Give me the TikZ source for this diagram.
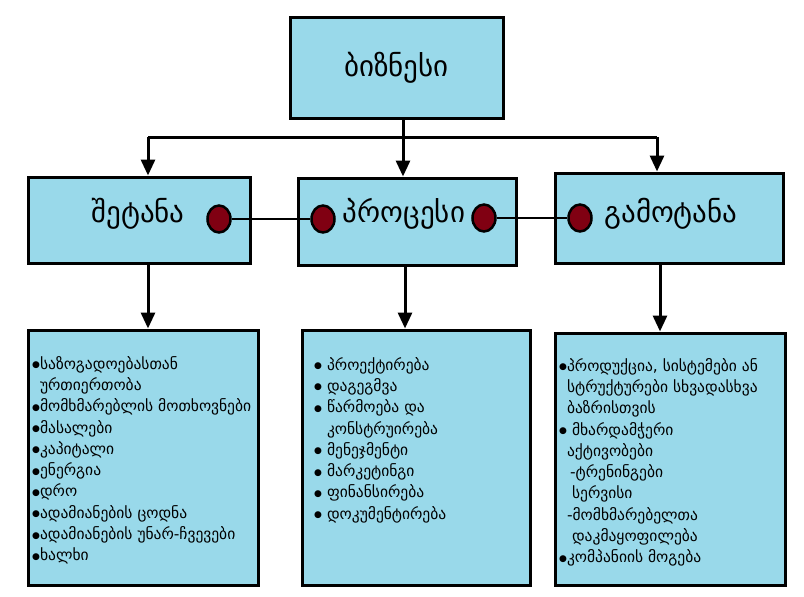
\documentclass[tikz,border=0pt]{standalone}
\usepackage{fontspec}
\setmainfont{DejaVu Sans}
\usetikzlibrary{arrows.meta,shapes.geometric}
\definecolor{boxblue}{RGB}{153,217,234}
\definecolor{dotred}{RGB}{128,0,18}
% list bullet, a little heavier than the text bullet, centred on the letters
\newcommand\lbul{\raisebox{1.5pt}{\fontsize{9}{9}\selectfont ●}}
\newcommand\nobul{\phantom{\lbul}}
\begin{document}
\begin{tikzpicture}[x=1pt,y=-1pt,
  box/.style={draw=black,line width=3pt,fill=boxblue,inner sep=0pt},
  title/.style={font=\fontsize{29}{33}\selectfont},
  listtext/.style={anchor=north west,align=left,inner sep=0pt,font=\fontsize{15.5}{21.3}\selectfont},
  port/.style={ellipse,draw=black,line width=2.5pt,fill=dotred,minimum width=23pt,minimum height=27pt,inner sep=0pt},
  wire/.style={line width=2.5pt},
  feed/.style={line width=3pt,-{Triangle[width=14pt,length=16pt]}}]
\useasboundingbox (0,0) rectangle (804,597);
\fill[white] (0,0) rectangle (804,597);

% top level
\node[box,title,minimum width=213pt,minimum height=101pt] (biz) at (396.5,67.5) {ბიზნესი};

% middle row
\node[box,minimum width=222pt,minimum height=86pt] (inbox) at (139,220) {};
\node[box,minimum width=218pt,minimum height=87pt] (procbox) at (407,221.5) {};
\node[box,minimum width=228pt,minimum height=90pt] (outbox) at (669,218) {};
\node[title] (intext) at (138,214) {შეტანა};
\node[title] (proctext) at (404,214) {პროცესი};
\node[title] (outtext) at (671,214) {გამოტანა};

% ports and links
\node[port] (d1) at (219,219) {};
\node[port] (d2) at (323,219) {};
\node[port] (d3) at (484,218) {};
\node[port] (d4) at (580,218) {};
\draw[wire] (d1) -- (d2);
\draw[wire] (d3) -- (d4);

% bus from the top box
\coordinate (b0) at (403,137);
\coordinate (bl) at (148,137);
\coordinate (br) at (657,137);
\draw[line width=3pt] (b0 |- biz.south) -- (b0);
\draw[line width=3pt] (bl) -- (br);
\draw[feed] (bl) -- (bl |- inbox.north);
\draw[feed] (b0) -- (b0 |- procbox.north);
\draw[feed] (br) -- (br |- outbox.north);

% bottom lists
\node[box,minimum width=230pt,minimum height=255pt] (lbox) at (143,457.5) {};
\node[box,minimum width=228pt,minimum height=255pt] (mbox) at (416,457.5) {};
\node[box,minimum width=230pt,minimum height=252pt] (rbox) at (670,459) {};

\coordinate (al) at (148,0);
\coordinate (am) at (405,0);
\coordinate (ar) at (660,0);
\draw[feed] (al |- inbox.south) -- (al |- lbox.north);
\draw[feed] (am |- procbox.south) -- (am |- mbox.north);
\draw[feed] (ar |- outbox.south) -- (ar |- rbox.north);

\node[listtext] (ltext) at (32,356) {%
\lbul საზოგადოებასთან\\
\nobul ურთიერთობა\\
\lbul მომხმარებლის მოთხოვნები\\
\lbul მასალები\\
\lbul კაპიტალი\\
\lbul ენერგია\\
\lbul დრო\\
\lbul ადამიანების ცოდნა\\
\lbul ადამიანების უნარ-ჩვევები\\
\lbul ხალხი};

\node[listtext] (mtext) at (314,357) {%
\lbul\hspace{5pt}პროექტირება\\
\lbul\hspace{5pt}დაგეგმვა\\
\lbul\hspace{5pt}წარმოება და\\
\nobul\hspace{5pt}კონსტრუირება\\
\lbul\hspace{5pt}მენეჯმენტი\\
\lbul\hspace{5pt}მარკეტინგი\\
\lbul\hspace{5pt}ფინანსირება\\
\lbul\hspace{5pt}დოკუმენტირება};

\node[listtext] (rtext) at (559,358) {%
\lbul პროდუქცია, სისტემები ან\\
\nobul სტრუქტურები სხვადასხვა\\
\nobul ბაზრისთვის\\
\lbul\hspace{5pt}მხარდამჭერი\\
\nobul აქტივობები\\
\nobul\hspace{3pt}-ტრენინგები\\
\nobul\hspace{5pt}სერვისი\\
\nobul -მომხმარებელთა\\
\nobul\hspace{5pt}დაკმაყოფილება\\
\lbul კომპანიის მოგება};
\end{tikzpicture}
\end{document}
